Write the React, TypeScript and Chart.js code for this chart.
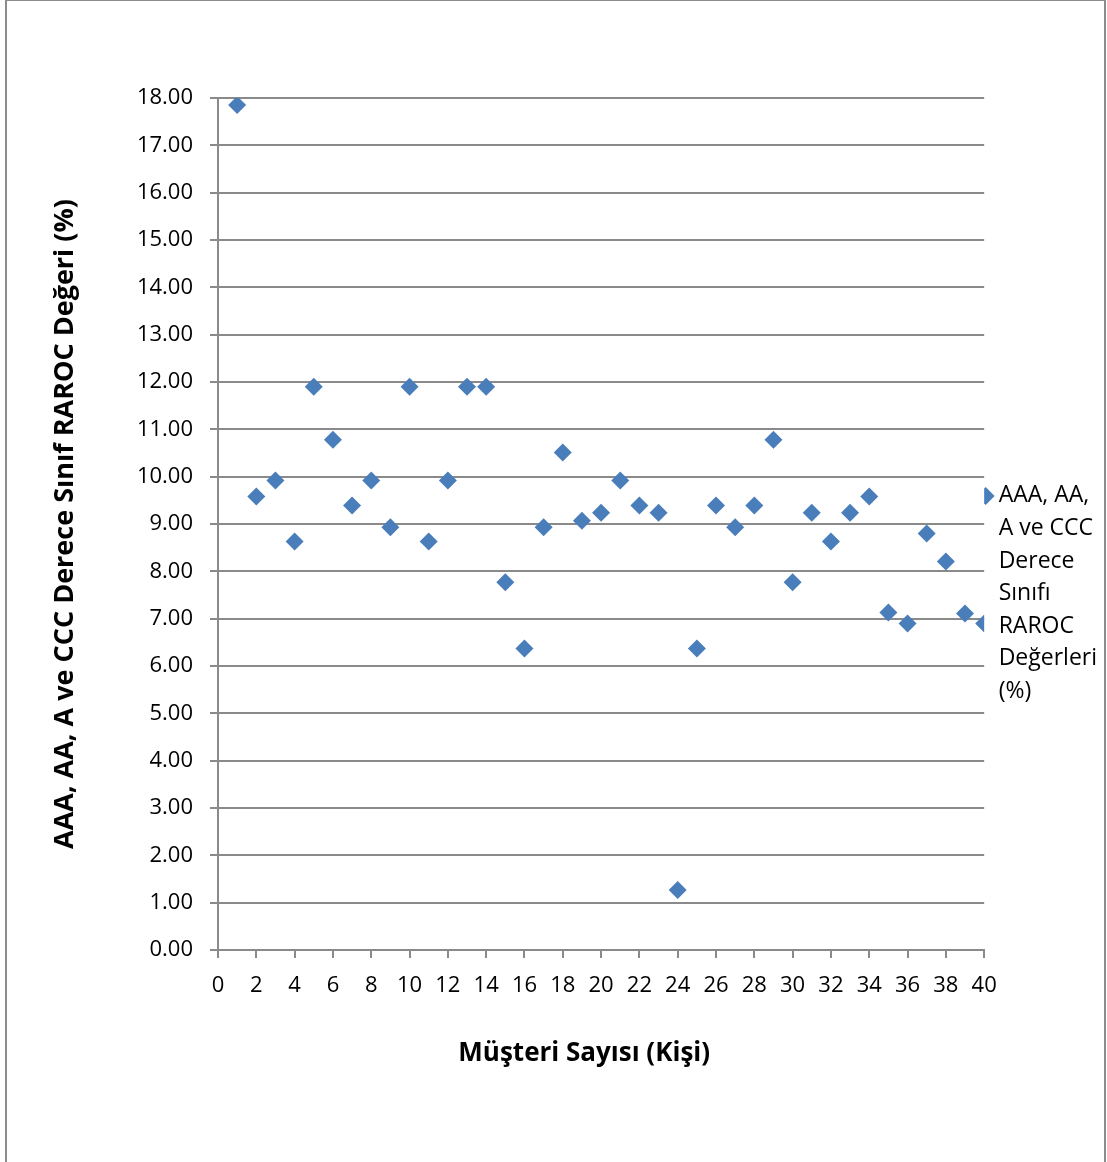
import React, { useEffect, useRef } from "react";
import { Chart, registerables } from "chart.js";

Chart.register(...registerables);

const customers = [
  1, 2, 3, 4, 5, 6, 7, 8, 9, 10, 11, 12, 13, 14, 15, 16, 17, 18, 19, 20,
  21, 22, 23, 24, 25, 26, 27, 28, 29, 30, 31, 32, 33, 34, 35, 36, 37, 38, 39, 40,
];
const rarocValues = [
  17.85, 9.58, 9.92, 8.63, 11.9, 10.78, 9.39, 9.92, 8.93, 11.9,
  8.63, 9.92, 11.9, 11.9, 7.77, 6.37, 8.93, 10.51, 9.07, 9.24,
  9.92, 9.39, 9.24, 1.27, 6.37, 9.39, 8.93, 9.39, 10.78, 7.77,
  9.24, 8.63, 9.24, 9.58, 7.13, 6.9, 8.8, 8.21, 7.11, 6.9,
];
const seriesLabel = "AAA, AA, A ve CCC Derece Sınıfı RAROC Değerleri (%)";
const legendLines = ["AAA, AA,", "A ve CCC", "Derece", "Sınıfı", "RAROC", "Değerleri", "(%)"];
const xTitle = "Müşteri Sayısı (Kişi)";
const yTitle = "AAA, AA, A ve CCC Derece Sınıf RAROC Değeri (%)";

const FONT = "'Open Sans', 'Noto Sans', sans-serif";
const BLUE = "#4a7ebb";
const GRID = "#8a8a8a";

export default function App() {
  const ref = useRef<HTMLCanvasElement | null>(null);

  useEffect(() => {
    if (!ref.current) return;
    const points = customers.map((c, i) => ({ x: c, y: rarocValues[i] }));
    const chart = new Chart(ref.current, {
      type: "scatter",
      data: {
        datasets: [
          {
            label: seriesLabel,
            data: points,
            pointStyle: "rectRot",
            pointRadius: 9,
            pointHoverRadius: 9,
            backgroundColor: BLUE,
            borderColor: BLUE,
            borderWidth: 0,
          },
        ],
      },
      options: {
        responsive: false,
        animation: false,
        devicePixelRatio: 1,
        layout: { padding: { left: 8, top: 98, right: 0, bottom: 63 } },
        plugins: {
          tooltip: { enabled: false },
          legend: {
            display: true,
            position: "right",
            align: "center",
            labels: {
              usePointStyle: true,
              boxWidth: 3,
              boxHeight: 12.7,
              padding: 0,
              color: "#000",
              font: { family: FONT, size: 23, lineHeight: 1.417 },
              generateLabels: () => [
                {
                  text: legendLines as any,
                  fillStyle: BLUE,
                  strokeStyle: BLUE,
                  lineWidth: 0,
                  pointStyle: "rectRot",
                  hidden: false,
                  datasetIndex: 0,
                  fontColor: "#000",
                } as any,
              ],
            },
          },
        },
        scales: {
          x: {
            type: "linear",
            min: 0,
            max: 40,
            afterFit: (s: any) => {
              s.height = 149;
            },
            ticks: {
              stepSize: 2,
              padding: 15,
              color: "#000",
              font: { family: FONT, size: 22 },
              maxRotation: 0,
            },
            grid: {
              display: true,
              drawOnChartArea: false,
              drawTicks: true,
              tickLength: 8,
              color: GRID,
              lineWidth: 2,
            },
            border: { display: true, color: GRID, width: 2 },
            title: {
              display: true,
              text: xTitle + "     ",
              color: "#000",
              font: { family: FONT, size: 26, weight: "bold" },
              padding: { top: 0, bottom: 30 },
            },
          },
          y: {
            type: "linear",
            min: 0,
            max: 18,
            afterFit: (s: any) => {
              s.width = 210;
            },
            ticks: {
              stepSize: 1,
              padding: 17,
              color: "#000",
              font: { family: FONT, size: 22 },
              callback: (v: any) => Number(v).toFixed(2),
            },
            grid: {
              display: true,
              drawTicks: true,
              tickLength: 8,
              color: GRID,
              lineWidth: 2,
            },
            border: { display: true, color: GRID, width: 2 },
            title: {
              display: true,
              text: yTitle,
              color: "#000",
              font: { family: FONT, size: 27, weight: "bold" },
              padding: { top: 41, bottom: 0 },
            },
          },
        },
      },
    });
    return () => chart.destroy();
  }, []);

  return (
    <div style={{ position: "absolute", left: 0, top: 0, width: 1107, height: 1162, background: "#fff", overflow: "hidden" }}>
      <div
        style={{
          position: "absolute",
          left: 5,
          top: -1,
          width: 1097,
          height: 1200,
          border: "2px solid #8c8c8c",
        }}
      />
      <canvas ref={ref} width={1107} height={1162} style={{ position: "absolute", left: 0, top: 0, width: 1107, height: 1162 }} />
    </div>
  );
}
